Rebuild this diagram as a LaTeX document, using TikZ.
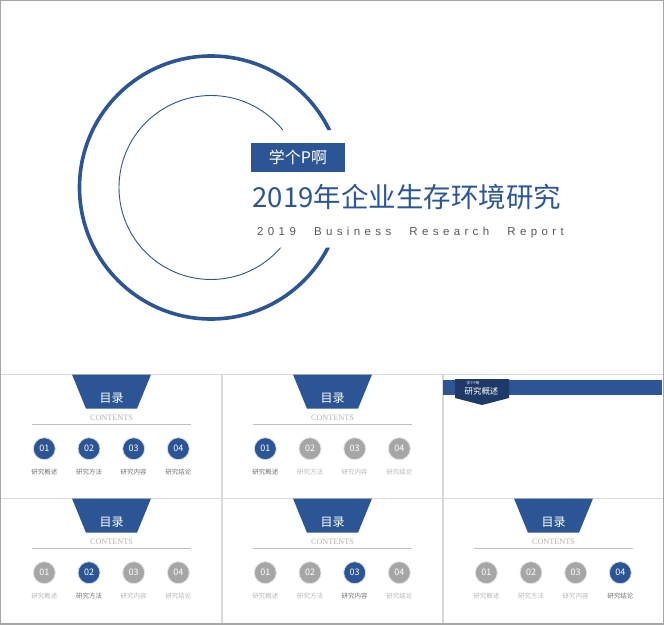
\documentclass[tikz,border=0pt]{standalone}
\usepackage{fontspec}
\setmainfont{Noto Sans CJK SC}
\newfontfamily\latinfont[LetterSpace=38,WordSpace=2.4]{Liberation Sans}
\newfontfamily\serifont{Liberation Serif}
\definecolor{navy}{HTML}{2B5594}
\definecolor{deepnavy}{HTML}{1F3A68}
\definecolor{dotgray}{HTML}{A6A6A6}
\begin{document}
\begin{tikzpicture}[x=1pt,y=1pt,
	bigring/.style={draw=navy,line width=3.6pt},
	thinring/.style={draw=navy,line width=0.9pt},
	namebox/.style={fill=navy,text=white,minimum width=94pt,minimum height=29pt,inner sep=0pt,font=\fontsize{16}{16}\selectfont},
	titletext/.style={text=navy,inner sep=0pt,font=\fontsize{27.5}{28}\selectfont},
	subtext/.style={text=black!65,inner sep=0pt,font=\latinfont\fontsize{11.5}{12}\selectfont},
	sheetline/.style={draw=black!15,line width=1.2pt},
	headtext/.style={text=white,inner sep=0pt,font=\fontsize{12}{12}\selectfont},
	contentstext/.style={text=black!30,inner sep=0pt,font=\serifont\fontsize{8.2}{8}\selectfont},
	ondot/.style={circle,fill=navy,draw=navy!20,line width=0.8pt,minimum size=22pt,inner sep=0pt,text=white,font=\fontsize{9}{9}\selectfont},
	offdot/.style={circle,fill=dotgray,draw=black!10,line width=0.8pt,minimum size=22pt,inner sep=0pt,text=white,font=\fontsize{9}{9}\selectfont},
	onlabel/.style={text=black!55,inner sep=0pt,font=\fontsize{6.5}{7}\selectfont},
	offlabel/.style={text=black!28,inner sep=0pt,font=\fontsize{6.5}{7}\selectfont}]
	\useasboundingbox (0,-624) rectangle (664,0);
	\fill[white] (0,-624) rectangle (664,0);

	\begin{scope}
		\clip (0,0) -- (664,0) -- (664,-130) -- (250,-130) -- (250,-247.5) -- (664,-247.5) -- (664,-624) -- (0,-624) -- cycle;
		\draw[bigring] (211,-187.5) circle[radius=131.5];
		\draw[thinring] (211,-187.5) circle[radius=92];
	\end{scope}
	\node[namebox] (name) at (298,-157.5) {学个P啊};
	\node[titletext] (title) at (407,-196.5) {2019年企业生存环境研究};
	\node[subtext] (sub) at (410.5,-233) {2019 Business Research Report};

	\draw[sheetline] (0,-374.5) -- (664,-374.5);
	\draw[sheetline] (0,-498.5) -- (664,-498.5);
	\draw[sheetline] (222,-374.5) -- (222,-624);
	\draw[sheetline] (443,-374.5) -- (443,-624);

	\foreach \p/\dx/\dy/\active in {a/0/0/0,b/221/0/1,c/0/124/2,d/221/124/3,e/442/124/4} {
		\begin{scope}[shift={(\dx,-\dy)}]
			\fill[navy] (72,-374.5) -- (151,-374.5) -- (137,-408.7) -- (86,-408.7) -- cycle;
			\node[headtext] (head\p) at (111.5,-398) {目录};
			\node[contentstext] (contents\p) at (111.5,-418) {CONTENTS};
			\draw[black!25,line width=0.7pt] (32,-424.7) -- (191,-424.7);
			\foreach \i/\x/\word in {1/44.3/研究概述,2/89/研究方法,3/133.7/研究内容,4/178.3/研究结论} {
				\def\state{off}
				\ifnum\active=0 \def\state{on}\fi
				\ifnum\active=\i \def\state{on}\fi
				\node[\state dot] (dot\p\i) at (\x,-448.7) {0\i};
				\node[\state label] (word\p\i) at (\x,-472) {\word};
			}
		\end{scope}
	}

	\fill[navy] (443,-380) rectangle (662,-395);
	\fill[deepnavy] (455,-379) -- (509,-379) -- (509,-398) -- (482,-405) -- (455,-398) -- cycle;
	\node[text=white,inner sep=0pt,font=\fontsize{3.5}{4}\selectfont] (small) at (473,-383) {学个P啊};
	\node[text=white,inner sep=0pt,font=\fontsize{8.4}{8}\selectfont] (section) at (481.5,-391.5) {研究概述};

	\draw[black!35,line width=1.5pt] (0,-624) rectangle (664,0);
\end{tikzpicture}
\end{document}
